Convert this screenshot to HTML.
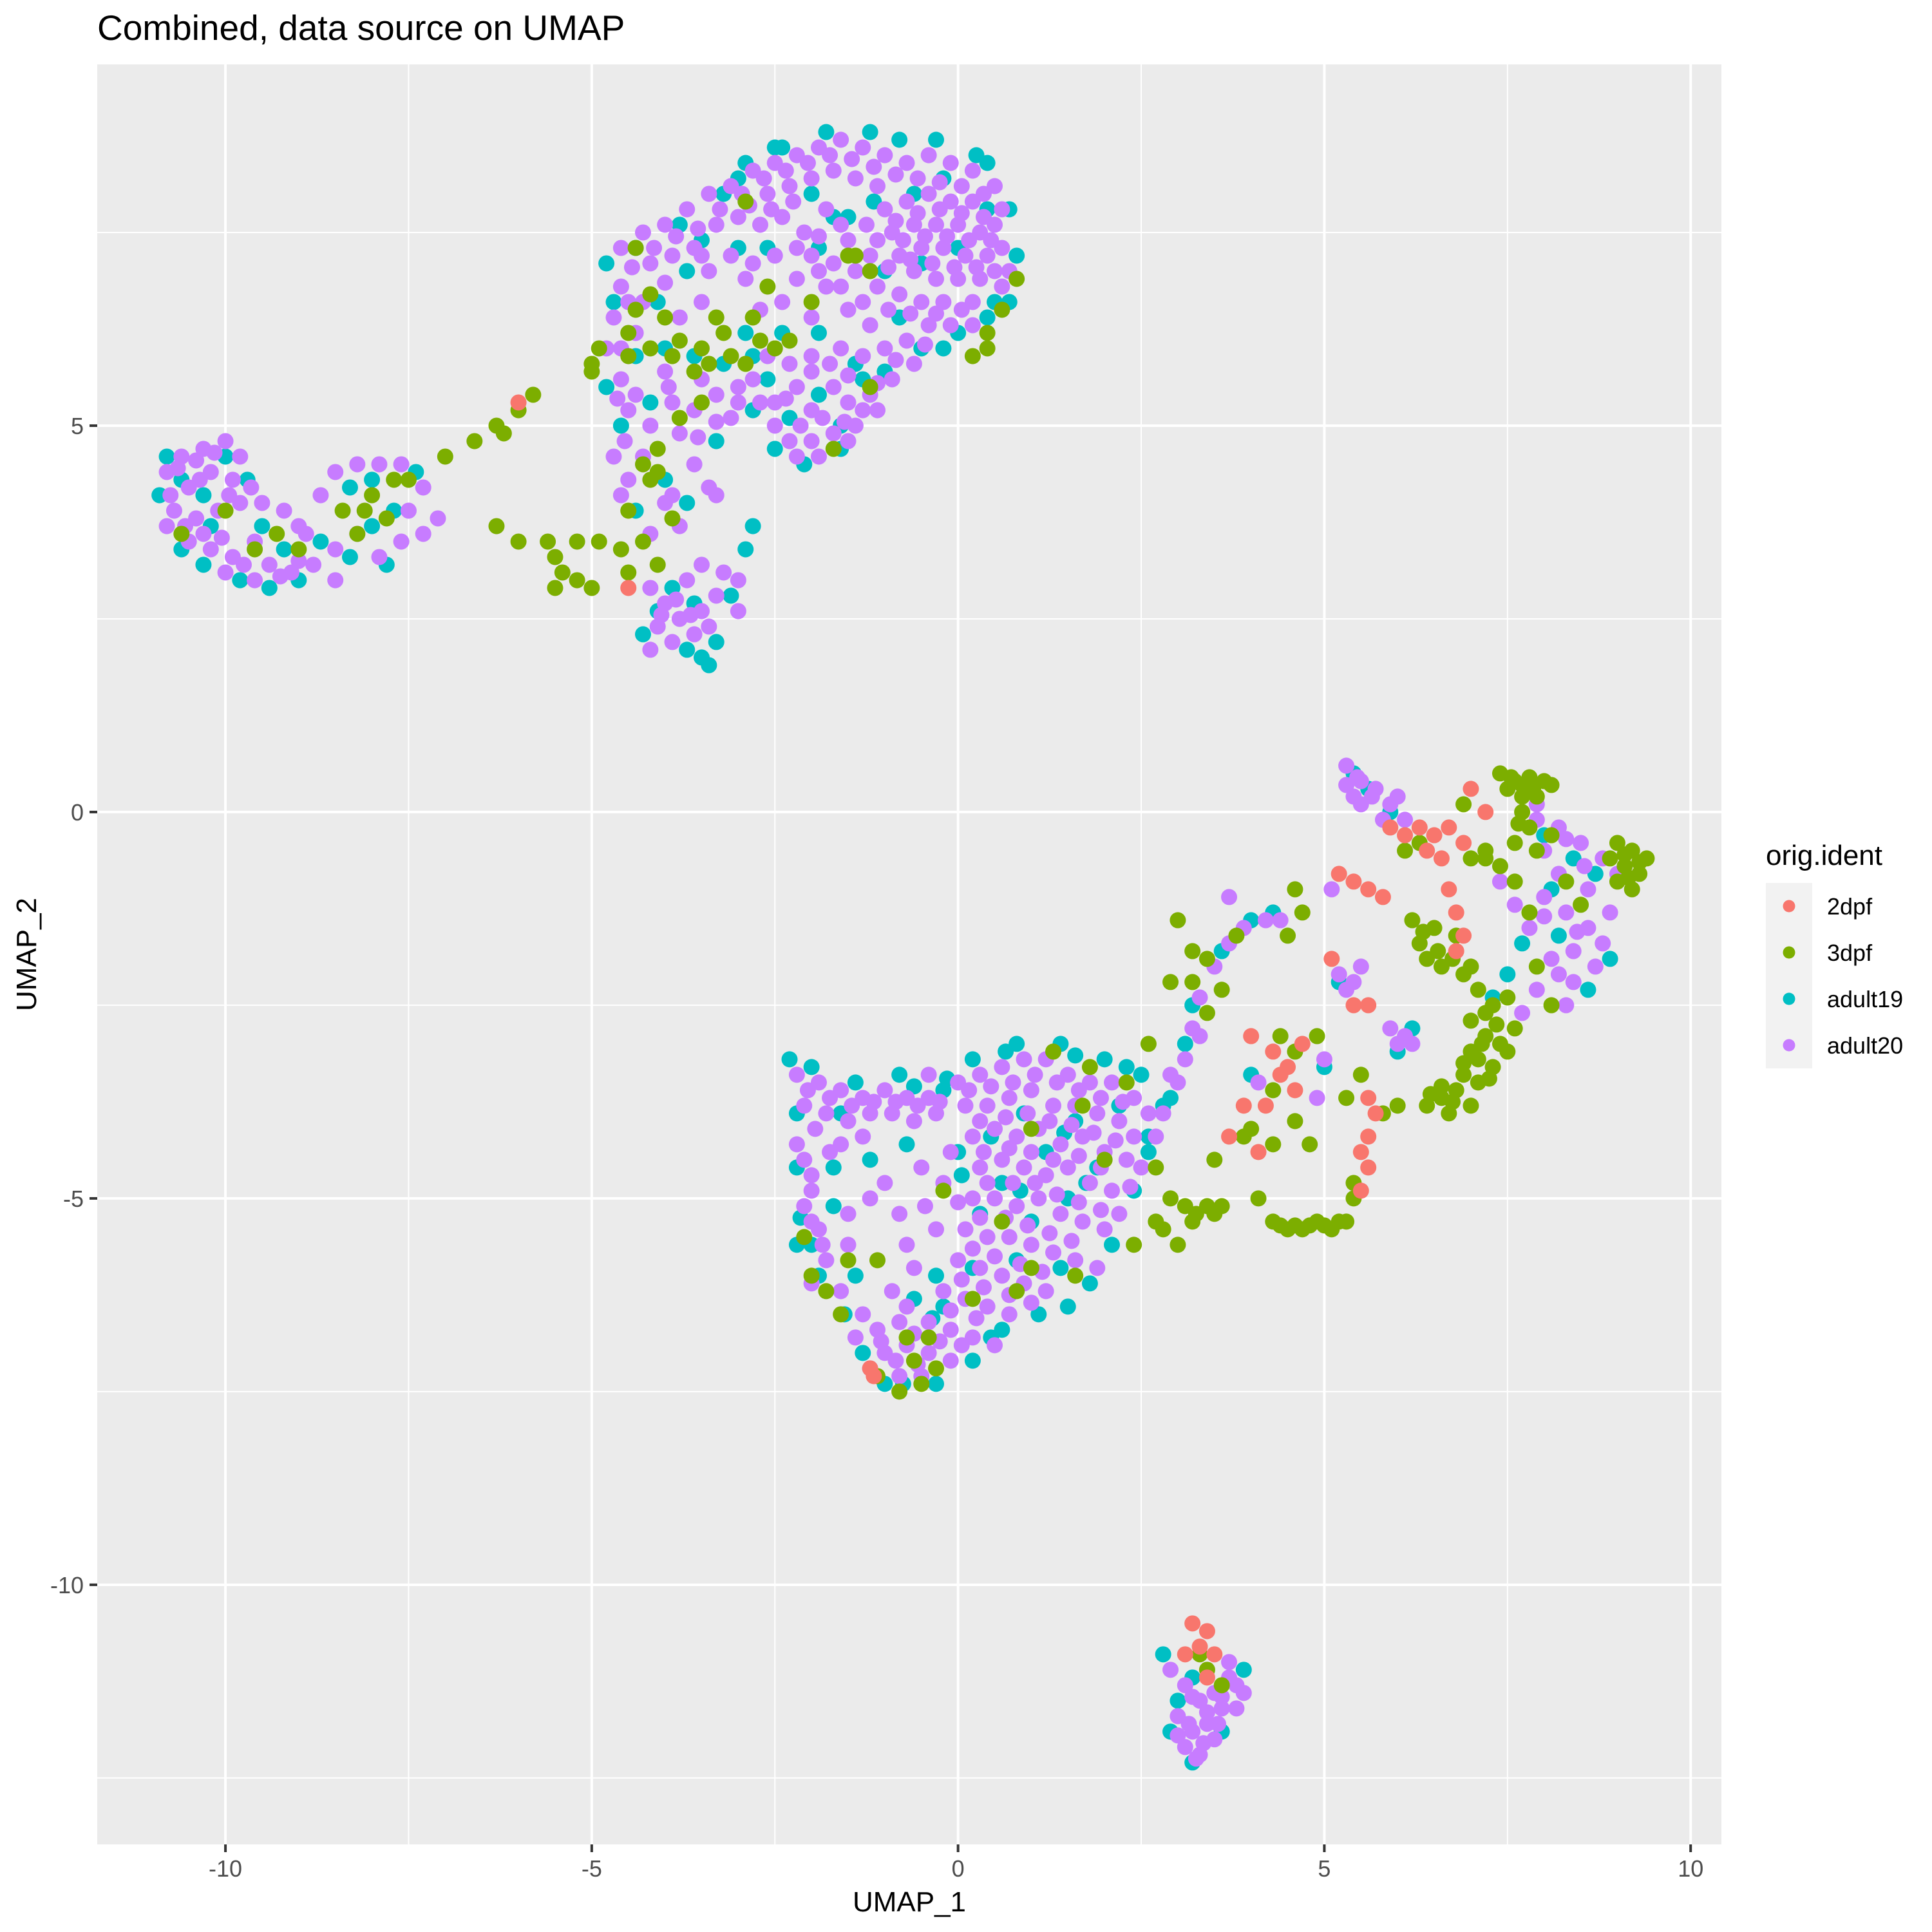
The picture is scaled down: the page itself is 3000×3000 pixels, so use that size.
<!DOCTYPE html>
<html><head><meta charset="utf-8"><style>
html,body{margin:0;padding:0;background:#fff;}
svg{display:block;font-family:"Liberation Sans",sans-serif;}
</style></head>
<body>
<svg id="chart" width="3000" height="3000" viewBox="0 0 3000 3000" xmlns="http://www.w3.org/2000/svg">
<rect x="0" y="0" width="3000" height="3000" fill="#ffffff"/>
<text x="151" y="62" font-size="55" fill="#000">Combined, data source on UMAP</text>
<rect x="151" y="100" width="2522" height="2764" fill="#ebebeb"/>
<g id="grid"></g>
<g id="points"></g>
<g id="axes"></g>
<text x="1412" y="2968" font-size="44" text-anchor="middle" fill="#000">UMAP_1</text>
<text transform="translate(56,1482) rotate(-90)" font-size="44" text-anchor="middle" fill="#000">UMAP_2</text>
<g id="legend">
<text x="2742" y="1343" font-size="44" fill="#000">orig.ident</text>
<rect x="2742" y="1371" width="72" height="288" fill="#f2f2f2"/>
</g>
</svg>
<script>
const NS="http://www.w3.org/2000/svg";
const xTicks=[-10,-5,0,5,10];
const xTickLabels=["-10","-5","0","5","10"];
const yTicks=[-10,-5,0,5];
const yTickLabels=["-10","-5","0","5"];
const xMinor=[-7.5,-2.5,2.5,7.5];
const yMinor=[-12.5,-7.5,-2.5,2.5,7.5];
const groups=["2dpf","3dpf","adult19","adult20"];
const colors=["#F8766D","#7CAE00","#00BFC4","#C77CFF"];

const adult20=[[-4.6,7.3],[-4.3,7.5],[-4.0,7.6],[-3.7,7.8],[-3.4,8.0],[-3.1,8.1],[-2.8,8.3],[-2.5,8.4],[-2.2,8.5],[-1.9,8.6],[-1.6,8.7],[-1.3,8.6],[-1.0,8.5],[-0.7,8.4],[-0.4,8.5],[-0.1,8.4],[0.2,8.3],[0.5,8.1],[0.6,7.8],[-2.6,8.0],[-2.3,8.1],[-2.0,8.2],[-1.7,8.3],[-1.4,8.2],[-1.1,8.1],[-3.0,7.7],[-3.3,7.6],[-2.7,7.6],[-2.4,7.7],[-2.1,7.5],[-1.8,7.8],[-4.2,7.1],[-3.9,7.2],[-3.6,7.3],
[-1.0,7.8],[-0.7,7.9],[-0.4,8.0],[-0.1,7.9],[0.2,7.9],[0.5,7.6],[-0.9,7.5],[-0.6,7.6],[-0.3,7.6],[0.0,7.6],[0.3,7.5],[0.6,7.3],[-0.8,7.2],[-0.5,7.3],[-0.2,7.3],[0.1,7.2],[0.4,7.2],[0.7,7.0],[-0.6,7.0],[-0.3,6.9],[0.0,6.9],[0.3,6.9],[0.6,6.8],[-1.2,7.2],[-1.5,7.4],[-1.4,7.0],[-1.1,6.8],[-0.8,6.7],[-0.5,6.6],[-0.2,6.6],[0.2,6.6],[-1.7,7.1],[-2.0,7.2],
[-0.4,6.3],[-0.1,6.3],[0.2,6.3],[-0.7,6.1],[-1.0,6.0],[-1.3,5.9],[-0.6,5.8],[-0.9,5.6],[-1.2,5.4],[-1.5,5.3],[-1.4,5.0],[-1.7,4.9],[-2.0,4.8],[-2.3,4.8],[-2.0,5.2],[-1.7,5.5],[-1.1,5.2],[-2.2,5.5],[-2.5,5.3],[-2.8,5.6],[-2.6,5.9],[-2.3,5.8],[-2.0,5.9],[-1.6,6.0],[-2.0,6.4],[-1.5,6.5],[-1.2,6.3],[-2.4,6.6],[-2.7,6.5],[-2.9,6.9],[-3.4,7.0],[-1.8,6.8],[-2.2,6.9],
[-4.6,6.8],[-4.7,6.4],[-4.8,6.0],[-4.6,5.6],[-4.4,6.2],[-4.3,6.6],[-4.5,5.2],[-4.7,4.6],[-4.5,4.3],[-4.3,4.6],[-4.2,5.0],[-3.9,5.3],[-3.6,5.2],[-3.3,5.4],[-3.0,5.5],[-3.5,5.6],[-3.8,4.9],[-3.6,4.5],[-3.4,4.2],[-4.0,4.0],[-3.8,3.7],[-4.2,3.6],[-3.1,5.1],[-4.0,5.7],[-3.8,6.4],[-3.5,6.6],[-2.2,4.6],[-1.9,4.6],[-2.5,5.0],[-1.5,4.8],
[-4.45,7.05],[-4.15,7.3],[-3.85,7.45],[-3.55,7.55],[-3.25,7.8],[-2.95,8.0],[-2.65,8.2],[-2.35,8.3],[-2.05,8.4],[-1.75,8.5],[-1.45,8.45],[-1.15,8.35],[-0.85,8.25],[-0.55,8.2],[-0.25,8.15],[0.05,8.1],[0.35,8.0],[-0.85,7.65],[-0.55,7.75],[-0.25,7.8],[0.05,7.75],[0.35,7.7],[-1.1,7.4],[-0.75,7.4],[-0.45,7.45],[-0.15,7.45],[0.15,7.4],[0.45,7.4],[-0.95,7.05],[-0.65,7.15],[-0.35,7.1],[-0.05,7.05],[0.25,7.05],[0.5,7.0],[-1.3,6.6],[-0.95,6.5],[-0.65,6.45],[-0.3,6.45],[0.05,6.5],[-1.6,6.8],[-1.9,7.0],[-2.2,7.3],[-2.5,7.2],[-2.8,7.1],[-3.1,7.2],[-1.25,7.6],[-1.6,7.6],[-1.9,7.45],[-2.25,7.9],[-2.55,7.8],[-2.85,7.85],[-3.5,7.2],[-4.0,6.85],[-4.5,6.6],[-4.6,6.0],[-0.85,5.85],[-1.1,5.55],[-1.3,5.2],[-1.55,5.05],[-1.85,5.1],[-2.15,5.0],[-2.35,5.35],[-0.45,6.05],[-2.0,5.7],[-1.75,5.8],[-1.5,5.65],[-3.0,5.3],[-3.3,5.05],[-3.55,4.85],[-4.4,5.4],[-4.65,5.35],[-4.55,4.8],[-3.95,5.5],[-2.7,5.3],
[-10.8,4.4],[-10.6,4.6],[-10.3,4.7],[-10.0,4.8],[-9.8,4.6],[-10.5,4.2],[-10.2,4.4],[-9.9,4.3],[-10.7,3.9],[-10.4,3.8],[-10.1,3.9],[-9.8,4.0],[-9.5,4.0],[-9.2,3.9],[-10.5,3.5],[-10.2,3.4],[-9.9,3.3],[-9.6,3.5],[-9.4,3.2],[-9.1,3.1],[-8.8,3.2],[-8.5,3.4],[-8.2,3.6],[-8.5,3.0],[-7.9,3.3],[-7.6,3.5],[-7.3,3.6],[-7.5,3.9],[-7.3,4.2],[-7.6,4.5],[-7.9,4.5],[-8.2,4.5],[-8.5,4.4],[-8.7,4.1],[-8.9,3.6],[-10.8,3.7],[-10.0,3.1],[-9.6,3.0],[-9.0,3.7],[-7.1,3.8],
[-10.65,4.45],[-10.4,4.55],[-10.15,4.65],[-10.35,4.3],[-10.55,3.7],[-10.3,3.6],[-10.05,3.55],[-9.75,3.2],[-9.25,3.05],[-9.0,3.25],[-10.75,4.1],[-9.95,4.1],[-9.65,4.2],
[-4.2,2.9],[-4.0,2.7],[-3.8,2.5],[-3.6,2.3],[-4.1,2.4],[-3.9,2.2],[-3.5,2.6],[-3.3,2.8],[-3.4,2.4],[-3.2,3.1],[-4.2,2.1],[-3.7,3.0],[-3.5,3.2],[-3.0,3.0],[-3.0,2.6],[-3.3,4.1],[-4.6,4.1],[-3.9,4.1],[-3.85,2.75],[-3.65,2.55],[-4.05,2.55],
[-2.2,-3.4],[-1.9,-3.5],[-1.6,-3.6],[-1.3,-3.7],[-1.0,-3.6],[-0.7,-3.7],[-0.4,-3.7],[-2.1,-3.8],[-1.8,-3.9],[-1.5,-4.0],[-1.2,-3.9],[-0.9,-3.9],[-0.6,-4.0],[-0.3,-3.9],[-2.2,-4.3],[-2.0,-4.7],[-2.1,-5.1],[-1.9,-5.4],[-1.8,-5.8],[-1.5,-5.2],[-1.6,-4.3],[-1.3,-4.2],
[0.0,-3.5],[0.3,-3.4],[0.6,-3.3],[0.9,-3.2],[1.2,-3.2],[1.5,-3.4],[1.8,-3.5],[2.1,-3.5],[2.4,-3.7],[2.6,-3.9],[0.1,-3.8],[0.4,-3.8],[0.7,-3.7],[1.0,-3.6],[1.3,-3.8],[1.6,-3.8],[1.9,-3.9],[2.2,-4.0],[0.2,-4.2],[0.5,-4.1],[0.8,-4.2],[1.1,-4.1],[1.4,-4.3],[1.7,-4.2],[2.0,-4.4],[2.3,-4.5],[0.3,-4.6],[0.6,-4.5],[0.9,-4.6],[1.2,-4.7],[1.5,-4.6],[1.8,-4.8],[2.1,-4.9],[0.2,-5.0],[0.5,-5.0],[0.8,-5.1],[1.1,-5.0],[1.4,-5.2],[1.7,-5.3],[2.0,-5.4],[0.1,-5.4],[0.4,-5.5],[0.7,-5.5],[1.0,-5.6],[1.3,-5.7],[1.6,-5.8],[0.0,-5.8],[0.3,-5.9],[0.6,-6.0],[0.9,-6.1],[1.2,-6.2],[-0.2,-6.2],[0.1,-6.3],[0.4,-6.4],[0.7,-6.5],[-0.4,-6.6],[-0.1,-6.7],[0.2,-6.8],[-0.7,-6.9],[-0.4,-7.0],[-0.1,-7.1],[-1.0,-7.0],[-1.2,-7.2],[-0.8,-7.3],[-0.5,-7.3],[-0.8,-6.6],[-1.1,-6.7],[-0.9,-6.2],[-1.6,-6.2],[-1.3,-6.5],[-0.6,-5.9],[-0.3,-5.4],[-0.8,-5.2],[-1.0,-4.8],[-0.5,-4.6],[-0.2,-4.8],[2.5,-4.6],[2.2,-5.2],[1.9,-5.9],[2.9,-3.4],[0.5,-6.9],[-2.0,-6.1],[-1.5,-5.6],
[-2.05,-3.6],[-1.75,-3.7],[-1.45,-3.8],[-1.15,-3.75],[-0.85,-3.75],[-0.55,-3.8],[-0.25,-3.75],[-1.95,-4.1],[-2.1,-4.5],[-2.0,-4.9],[-2.0,-5.3],[-1.85,-5.6],[-1.75,-4.4],[0.15,-3.6],[0.45,-3.55],[0.75,-3.5],[1.05,-3.4],[1.35,-3.5],[1.65,-3.6],[1.95,-3.7],[2.25,-3.75],[0.3,-4.0],[0.65,-3.95],[0.95,-3.9],[1.25,-4.0],[1.55,-4.05],[1.85,-4.15],[2.15,-4.25],[0.35,-4.4],[0.7,-4.35],[1.0,-4.4],[1.3,-4.5],[1.65,-4.45],[1.95,-4.6],[0.4,-4.8],[0.75,-4.8],[1.05,-4.8],[1.35,-4.95],[1.65,-5.05],[1.95,-5.15],[0.3,-5.25],[0.65,-5.25],[0.95,-5.35],[1.25,-5.45],[1.55,-5.55],[0.2,-5.65],[0.5,-5.75],[0.85,-5.85],[1.15,-5.95],[0.05,-6.05],[0.35,-6.15],[0.7,-6.25],[1.0,-6.35],[-0.1,-6.45],[0.25,-6.55],[-0.25,-6.85],[0.05,-6.9],[-0.55,-7.15],[-0.85,-7.1],[-1.05,-6.85],[-0.6,-6.75],[-1.4,-6.8],[-0.7,-6.4],[0.0,-5.05],[-0.1,-4.4],[-0.45,-5.1],[-0.7,-5.6],[-1.2,-5.0],[-0.4,-3.4],[2.4,-4.2],[2.35,-4.85],
[3.0,-3.5],[3.1,-3.2],[3.2,-2.8],[3.3,-2.4],[3.5,-2.0],[3.7,-1.7],[3.9,-1.5],[4.2,-1.4],[4.4,-1.4],[3.3,-2.9],[2.8,-3.9],[2.7,-4.2],[3.7,-1.1],
[5.3,0.6],[5.5,0.4],[5.7,0.3],[5.9,0.1],[6.1,-0.1],[5.5,0.1],[5.8,-0.1],[5.4,0.2],[6.0,0.2],[5.45,0.45],[5.65,0.2],[5.3,0.35],[5.1,-1.0],[5.2,-2.1],[5.4,-2.2],[5.3,-2.3],[5.5,-2.0],[5.9,-2.8],[6.1,-2.9],[6.2,-3.0],[6.0,-3.0],[4.1,-3.5],[4.9,-3.7],[5.0,-3.2],
[7.9,-0.1],[8.2,-0.2],[8.5,-0.4],[8.8,-0.6],[9.0,-0.8],[8.0,-1.1],[8.3,-1.3],[7.8,-1.5],[8.6,-1.5],[8.4,-1.8],[8.1,-1.9],[8.7,-2.0],[7.6,-1.2],[7.9,-2.3],[8.9,-1.3],[7.4,-0.9],[8.2,-0.8],[8.6,-1.0],[7.7,-2.6],[8.3,-2.5],[8.8,-1.7],[7.9,0.1],[8.4,-2.2],[8.0,-0.5],[8.3,-0.35],[8.55,-0.7],[8.0,-1.35],[8.45,-1.55],[8.2,-2.1],
[3.1,-11.3],[3.3,-11.5],[3.5,-11.4],[3.7,-11.2],[3.9,-11.4],[3.0,-11.7],[3.2,-11.9],[3.4,-11.8],[3.6,-11.6],[3.1,-12.1],[3.3,-12.2],[3.5,-12.0],[3.8,-11.6],[2.9,-11.1],[3.7,-11.0],
[3.2,-11.45],[3.4,-11.65],[3.6,-11.45],[3.8,-11.3],[3.15,-11.8],[3.35,-12.05],[3.55,-11.8],[3.0,-11.95],[3.25,-12.25]];

const adult19=[[-4.8,7.1],[-4.4,7.3],[-3.8,7.6],[-3.2,8.0],[-2.9,8.4],[-2.4,8.6],[-1.8,8.8],[-1.2,8.8],[-0.8,8.7],[-0.3,8.7],[0.4,8.4],[0.7,7.8],[0.8,7.2],[0.7,6.6],[0.4,6.4],[0.0,6.2],[-0.5,6.0],[-1.0,5.7],[-1.3,5.6],[-1.6,4.7],[-2.1,4.5],[-2.5,4.7],[-1.9,5.4],[-2.4,6.2],[-2.9,6.2],[-3.2,5.8],[-3.6,5.9],[-4.0,6.0],[-4.4,5.9],[-4.6,5.0],[-4.0,4.3],[-3.7,4.0],[-4.4,3.9],[-3.3,4.8],[-2.8,5.2],[-1.5,7.7],[-0.5,7.1],[0.0,7.3],[0.4,7.8],[-1.0,7.0],[-2.6,7.3],[-3.0,7.3],[-1.9,6.2],[-1.4,5.8],[-0.8,6.4],[-3.7,7.0],[-4.1,6.6],[-1.7,7.7],[-0.2,8.2],[-2.8,5.9],
[-1.15,7.9],[-0.6,8.0],[0.25,8.5],[-2.0,8.0],[-3.5,7.4],[-4.7,6.6],[-4.8,5.5],[0.5,6.6],[-0.2,6.0],[-1.6,5.0],[-2.3,5.1],[-1.9,7.3],[-3.0,8.2],[-2.5,8.6],[-4.2,5.3],[-2.6,5.6],
[-10.9,4.1],[-10.6,4.3],[-10.3,4.1],[-10.0,4.6],[-9.7,4.3],[-10.6,3.4],[-10.3,3.2],[-9.8,3.0],[-9.4,2.9],[-9.0,3.0],[-8.7,3.5],[-8.3,3.3],[-8.0,3.7],[-7.7,3.9],[-7.4,4.4],[-8.3,4.2],[-7.8,3.2],[-10.2,3.7],[-9.5,3.7],[-9.2,3.4],[-10.8,4.6],[-8.0,4.3],
[-4.1,2.6],[-3.9,2.9],[-3.7,2.1],[-3.5,2.0],[-3.3,2.2],[-4.3,2.3],[-3.6,2.7],[-3.1,2.8],[-2.9,3.4],[-2.8,3.7],[-3.4,1.9],
[-2.3,-3.2],[-2.0,-3.3],[-1.4,-3.5],[-0.8,-3.4],[-0.2,-3.6],[0.2,-3.2],[0.8,-3.0],[1.4,-3.0],[2.0,-3.2],[2.5,-3.4],[2.8,-3.8],[2.6,-4.2],[2.4,-4.9],[2.1,-5.6],[1.8,-6.1],[1.5,-6.4],[1.1,-6.5],[0.6,-6.7],[0.2,-7.1],[-0.3,-7.4],[-1.0,-7.4],[-1.3,-7.0],[-1.9,-6.0],[-2.2,-5.6],[-2.2,-4.6],[-2.2,-3.9],[-1.7,-4.6],[-1.2,-4.5],[-0.7,-4.3],[0.0,-4.4],[0.6,-4.8],[1.2,-4.4],[1.9,-4.6],[1.0,-5.3],[0.3,-5.2],[-0.3,-6.0],[0.8,-5.8],[1.5,-5.0],[2.2,-3.8],[-1.4,-6.0],[-0.6,-6.3],[-0.2,-6.4],[0.9,-3.9],[1.6,-4.0],[-1.7,-5.1],[-2.0,-5.6],
[-0.15,-3.45],[0.65,-3.1],[1.6,-3.15],[2.3,-3.3],[0.45,-4.2],[1.45,-4.15],[0.85,-4.9],[1.75,-4.8],[0.2,-5.9],[1.4,-5.9],[-0.35,-6.55],[0.45,-6.8],[-0.75,-7.4],[-1.55,-6.5],[-1.6,-3.9],[-0.6,-3.55],[-2.15,-5.25],[0.05,-4.7],
[2.9,-3.7],[3.1,-3.0],[3.2,-2.5],[3.6,-1.8],[4.0,-1.4],[4.3,-1.3],[2.6,-4.4],
[5.4,0.5],[5.6,0.3],[5.9,0.0],[5.2,-2.2],[6.0,-3.1],[6.2,-2.8],[5.0,-3.3],[4.0,-3.4],[8.0,-0.3],[8.4,-0.6],[8.7,-0.8],[7.7,-1.7],[8.2,-1.6],[8.6,-2.3],[7.5,-2.1],[8.9,-1.9],[8.1,-1.0],[7.3,-2.4],
[2.8,-10.9],[3.0,-11.5],[3.2,-11.2],[3.6,-11.9],[3.9,-11.1],[3.2,-12.3],[2.9,-11.9]];

const dpf3=[[-3.2,6.2],[-3.5,6.0],[-3.8,6.1],[-3.4,5.8],[-3.1,5.9],[-2.9,5.8],[-3.6,5.7],[-3.9,5.9],[-4.2,6.0],[-4.0,6.4],[-4.2,6.7],[-4.4,6.5],[-4.5,5.9],[-4.5,6.2],[-2.7,6.1],[-2.5,6.0],[-2.3,6.1],[-3.3,6.4],[-2.8,6.4],[-3.5,5.3],[-3.8,5.1],[-4.3,4.5],[-4.1,4.7],[-4.2,4.3],[-2.9,7.9],[-1.5,7.2],[-1.2,7.0],[-2.6,6.8],[0.6,6.5],[0.4,6.0],[0.2,5.9],[0.8,6.9],[0.4,6.2],[-1.7,4.7],[-1.2,5.5],[-4.4,7.3],[-4.9,6.0],[-5.0,5.7],[-2.0,6.6],[-1.4,7.2],
[-10.0,3.9],[-9.6,3.4],[-9.3,3.6],[-8.4,3.9],[-8.1,3.9],[-8.0,4.1],[-7.8,3.8],[-8.2,3.6],[-7.7,4.3],[-7.5,4.3],[-10.6,3.6],[-9.0,3.4],
[-7.0,4.6],[-6.6,4.8],[-6.3,5.0],[-6.0,5.2],[-5.8,5.4],[-6.2,4.9],[-5.0,5.8],[-6.3,3.7],[-6.0,3.5],[-5.5,3.3],[-5.4,3.1],[-5.2,3.0],[-5.5,2.9],[-5.0,2.9],[-5.6,3.5],[-4.9,3.5],[-4.6,3.4],[-4.5,3.9],[-4.3,3.5],[-4.1,4.4],[-4.5,3.1],[-4.1,3.2],[-3.9,3.8],[-5.2,3.5],
[-1.1,-7.3],[-0.8,-7.5],[-0.5,-7.4],[-0.3,-7.2],[-0.6,-7.1],[-0.7,-6.8],[-0.4,-6.8],[0.2,-6.3],[-1.8,-6.2],[-1.6,-6.5],[-1.5,-5.8],[-2.0,-6.0],[-1.1,-5.8],[-0.2,-4.9],[0.6,-5.3],[1.0,-5.9],[2.0,-4.5],[2.3,-3.5],[1.3,-3.1],[1.7,-3.8],[1.0,-4.1],[2.6,-3.0],[1.8,-3.3],[0.8,-6.2],[1.6,-6.0],[-2.1,-5.5],
[2.7,-4.6],[2.9,-5.0],[3.1,-5.1],[3.4,-5.1],[3.6,-5.1],[2.7,-5.3],[3.2,-5.3],[2.8,-5.4],[3.5,-4.5],[3.9,-4.2],[2.4,-5.6],[3.0,-5.6],[3.25,-5.2],[3.5,-5.2],
[3.0,-1.4],[3.2,-1.8],[3.4,-1.9],[3.6,-2.3],[3.4,-2.6],[3.2,-2.2],[2.9,-2.2],[3.8,-1.6],[4.5,-1.6],[4.7,-1.3],[4.6,-1.0],
[4.3,-5.3],[4.5,-5.4],[4.7,-5.4],[4.9,-5.3],[5.1,-5.4],[5.3,-5.3],[5.4,-5.0],[5.4,-4.8],[4.1,-5.0],[4.4,-2.9],[4.6,-3.1],[4.3,-3.6],[4.6,-4.0],[4.3,-4.3],[4.0,-4.1],[5.3,-3.7],[5.8,-3.9],[5.5,-3.4],[6.0,-3.8],[4.8,-4.3],[4.9,-2.9],[4.4,-5.35],[4.6,-5.35],[4.8,-5.35],[5.0,-5.35],[5.2,-5.3],
[6.3,-0.4],[6.1,-0.5],[6.9,0.1],[7.4,0.5],[7.6,0.4],[7.8,0.45],[8.0,0.4],[7.5,0.3],[7.7,0.2],[7.9,0.2],[7.7,0.0],[7.8,-0.2],[7.6,-0.4],[7.9,-0.5],[8.1,-0.3],[7.2,-0.6],[7.4,-0.7],[7.0,-0.6],[7.6,-0.9],[7.55,0.45],[7.7,0.35],[7.85,0.3],[8.1,0.35],[7.65,-0.15],[7.2,-0.5],
[9.0,-0.4],[9.2,-0.5],[9.4,-0.6],[9.1,-0.7],[9.3,-0.8],[9.0,-0.9],[9.2,-1.0],[8.9,-0.6],[9.1,-0.55],[9.3,-0.65],[9.15,-0.85],
[6.2,-1.4],[6.3,-1.7],[6.4,-1.9],[6.6,-2.0],[6.8,-1.6],[6.9,-2.1],[7.1,-2.3],[7.3,-2.5],[7.5,-2.4],[7.0,-2.7],[7.2,-2.9],[7.4,-3.0],[7.1,-3.2],[7.3,-3.3],[7.5,-3.1],[6.9,-3.4],[7.1,-3.5],[6.8,-3.6],[6.6,-3.7],[6.4,-3.8],[6.7,-3.9],[7.0,-3.8],[7.6,-2.8],[6.5,-1.5],[7.9,-2.0],[8.1,-2.5],[7.8,-1.3],[8.3,-0.9],[8.5,-1.2],
[6.35,-1.55],[6.55,-1.8],[6.75,-1.9],[7.0,-2.0],[7.2,-2.6],[7.35,-2.75],[7.15,-3.0],[7.0,-3.1],[6.9,-3.25],[7.25,-3.45],[6.6,-3.55],[6.45,-3.65],[6.75,-3.75],
[3.3,-10.9],[3.4,-11.1],[3.6,-11.3]];

const dpf2=[[-6.0,5.3],[-4.5,2.9],[-1.2,-7.2],[-1.15,-7.3],
[5.9,-0.2],[6.1,-0.3],[6.3,-0.2],[6.5,-0.3],[6.7,-0.2],[6.9,-0.4],[6.4,-0.5],[6.6,-0.6],[7.0,0.3],[7.2,0.0],[5.2,-0.8],[5.4,-0.9],[5.6,-1.0],[5.8,-1.1],[6.7,-1.0],[6.8,-1.3],[6.9,-1.6],[6.8,-1.8],[5.1,-1.9],[5.4,-2.5],[5.6,-2.5],
[4.0,-2.9],[4.3,-3.1],[4.4,-3.4],[4.6,-3.6],[4.2,-3.8],[4.5,-3.3],[4.7,-3.0],[3.9,-3.8],[5.6,-3.7],[5.7,-3.9],[5.6,-4.2],[5.5,-4.4],[5.6,-4.6],[5.5,-4.9],[4.1,-4.4],[3.7,-4.2],
[3.2,-10.5],[3.4,-10.6],[3.3,-10.8],[3.1,-10.9],[3.5,-10.9],[3.4,-11.2]];

const seriesData=[dpf2,dpf3,adult19,adult20];
const drawOrder=[2,3,1,0];

const PL=151,PR=2673,PT=100,PB=2864;
const xMinV=-11.75,xMaxV=10.42,yMinV=-13.36,yMaxV=9.675;
function sx(v){return PL+(v-xMinV)/(xMaxV-xMinV)*(PR-PL);}
function sy(v){return PB-(v-yMinV)/(yMaxV-yMinV)*(PB-PT);}

const grid=document.getElementById('grid');
function line(x1,y1,x2,y2,w,name){
  const l=document.createElementNS(NS,'line');
  l.setAttribute('x1',x1);l.setAttribute('y1',y1);l.setAttribute('x2',x2);l.setAttribute('y2',y2);
  l.setAttribute('stroke','#ffffff');l.setAttribute('stroke-width',w);
  
  
  grid.appendChild(l);
}
xMinor.forEach(v=>line(sx(v),PT,sx(v),PB,2,'x-minor-gridline'));
yMinor.forEach(v=>line(PL,sy(v),PR,sy(v),2,'y-minor-gridline'));
xTicks.forEach(v=>line(sx(v),PT,sx(v),PB,4,'x-major-gridline'));
yTicks.forEach(v=>line(PL,sy(v),PR,sy(v),4,'y-major-gridline'));

const axes=document.getElementById('axes');
xTicks.forEach((v,i)=>{
  const t=document.createElementNS(NS,'line');
  t.setAttribute('x1',sx(v));t.setAttribute('x2',sx(v));t.setAttribute('y1',PB);t.setAttribute('y2',PB+12);
  t.setAttribute('stroke','#333');t.setAttribute('stroke-width',4);
  
  
  axes.appendChild(t);
  const tx=document.createElementNS(NS,'text');
  tx.setAttribute('x',sx(v));tx.setAttribute('y',2914);tx.setAttribute('text-anchor','middle');
  tx.setAttribute('font-size','36');tx.setAttribute('fill','#4d4d4d');
  tx.textContent=xTickLabels[i];
  
  
  axes.appendChild(tx);
});
yTicks.forEach((v,i)=>{
  const t=document.createElementNS(NS,'line');
  t.setAttribute('x1',PL-12);t.setAttribute('x2',PL);t.setAttribute('y1',sy(v));t.setAttribute('y2',sy(v));
  t.setAttribute('stroke','#333');t.setAttribute('stroke-width',4);
  
  
  axes.appendChild(t);
  const tx=document.createElementNS(NS,'text');
  tx.setAttribute('x',130);tx.setAttribute('y',sy(v)+13);tx.setAttribute('text-anchor','end');
  tx.setAttribute('font-size','36');tx.setAttribute('fill','#4d4d4d');
  tx.textContent=yTickLabels[i];
  
  
  axes.appendChild(tx);
});

const pts=document.getElementById('points');
drawOrder.forEach(gi=>{
  const g=document.createElementNS(NS,'g');
  g.setAttribute('fill',colors[gi]);
  
  
  seriesData[gi].forEach(p=>{
    const c=document.createElementNS(NS,'circle');
    c.setAttribute('cx',sx(p[0]));c.setAttribute('cy',sy(p[1]));c.setAttribute('r',12.5);
    
    
    g.appendChild(c);
  });
  pts.appendChild(g);
});

const legend=document.getElementById('legend');
groups.forEach((name,i)=>{
  const cy=1407+i*72;
  const c=document.createElementNS(NS,'circle');
  c.setAttribute('cx',2778);c.setAttribute('cy',cy);c.setAttribute('r',9.5);c.setAttribute('fill',colors[i]);
  
  
  legend.appendChild(c);
  const t=document.createElementNS(NS,'text');
  t.setAttribute('x',2837);t.setAttribute('y',cy+13);t.setAttribute('font-size','36');t.setAttribute('fill','#000');
  t.textContent=name;
  
  
  legend.appendChild(t);
});
</script>
</body></html>
